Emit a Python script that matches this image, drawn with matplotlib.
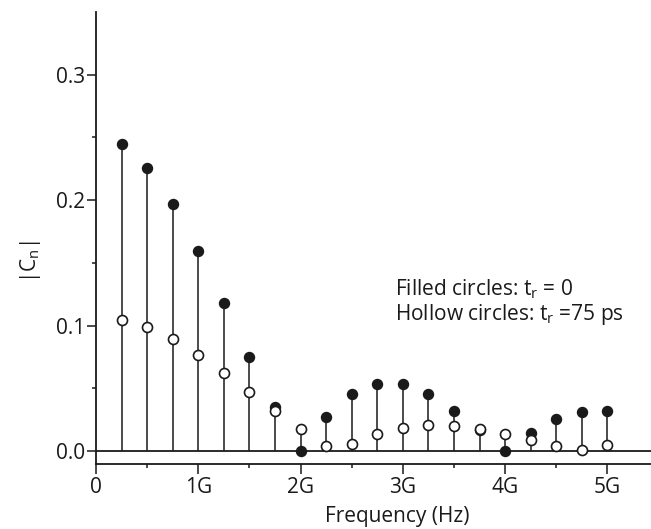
import numpy as np
import matplotlib
matplotlib.use("Agg")
import matplotlib.pyplot as plt

plt.rcParams['font.family'] = ['Open Sans', 'DejaVu Sans']
plt.rcParams['mathtext.fontset'] = 'custom'
plt.rcParams['mathtext.rm'] = 'Open Sans'
plt.rcParams['mathtext.it'] = 'Open Sans'

# harmonic frequencies in GHz
freq = [0.25, 0.5, 0.75, 1.0, 1.25, 1.5, 1.75, 2.0, 2.25, 2.5,
        2.75, 3.0, 3.25, 3.5, 3.75, 4.0, 4.25, 4.5, 4.75, 5.0]
# |Cn| with tr = 0 (filled circles)
cn_filled = [0.2446, 0.2259, 0.1967, 0.1595, 0.1180, 0.0752, 0.0353, 0.0, 0.0271, 0.0452,
             0.0537, 0.0534, 0.0455, 0.0322, 0.0167, 0.0, 0.0144, 0.0253, 0.0314, 0.0319]
# |Cn| with tr = 75 ps (hollow circles)
cn_hollow = [0.1045, 0.0986, 0.0893, 0.0768, 0.0624, 0.0473, 0.0319, 0.0173, 0.0043, 0.0056,
             0.0136, 0.0186, 0.0207, 0.0202, 0.0178, 0.0138, 0.0090, 0.0037, 0.0010, 0.0048]

xticks = [0, 1, 2, 3, 4, 5]
xticklabels = ['0', '1G', '2G', '3G', '4G', '5G']
yticks = [0.0, 0.1, 0.2, 0.3]

W, H = 651, 529
fs = 15
fig = plt.figure(figsize=(W / 100, H / 100), dpi=100)
# axes box in pixels: left 96, right edge of image, bottom 464, top 12
ax = fig.add_axes([96 / W, (H - 464) / H, (W - 96) / W, (464 - 12) / H])

f = np.array(freq)
top = np.maximum(cn_filled, cn_hollow)
ax.vlines(f, 0, top, color='#1a1a1a', lw=1.1, zorder=2)
ax.axhline(0, color='#1a1a1a', lw=1.3, zorder=1)
ax.plot(f, cn_filled, 'o', ms=7.2, mfc='#1a1a1a', mec='#1a1a1a', mew=1.0, zorder=3, clip_on=False)
ax.plot(f, cn_hollow, 'o', ms=7.2, mfc='white', mec='#1a1a1a', mew=1.2, zorder=4, clip_on=False)

ax.set_xlim(0, (W - 96) / 102.3)
ax.set_ylim(-0.0104, 0.350)

ax.spines['top'].set_visible(False)
ax.spines['right'].set_visible(False)
for s in ('left', 'bottom'):
    ax.spines[s].set_linewidth(1.3)
    ax.spines[s].set_color('#1a1a1a')

ax.set_xticks(xticks)
ax.set_xticklabels(xticklabels)
ax.set_xticks(np.arange(0.5, 5.5, 1.0), minor=True)
ax.set_yticks(yticks)
ax.set_yticklabels(['%.1f' % v for v in yticks])
ax.set_yticks([0.05, 0.15, 0.25], minor=True)
ax.tick_params(which='major', direction='out', width=1.1, labelsize=fs,
               color='#1a1a1a', labelcolor='#1a1a1a')
ax.tick_params(axis='x', which='major', length=7, pad=2.5)
ax.tick_params(axis='y', which='major', length=6.5, pad=1)
ax.tick_params(which='minor', direction='out', length=3, width=1.1, color='#1a1a1a')

ax.set_xlabel('Frequency (Hz)', fontsize=fs, color='#1a1a1a')
ax.xaxis.set_label_coords((397.7 - 96) / (W - 96), -0.093)
ax.set_ylabel(r'|C$_\mathregular{n}$|', fontsize=fs, color='#1a1a1a')
ax.yaxis.set_label_coords(-0.095, (464 - 262) / (464 - 12))

# both note lines in one text block
ax.text(2.92, 0.1045,
        'Filled circles: t$_\\mathregular{r}$ = 0\n'
        'Hollow circles: t$_\\mathregular{r}$ =75 ps',
        fontsize=fs, color='#1a1a1a', va='baseline', linespacing=1.05)

fig.savefig('out.png', dpi=100)
